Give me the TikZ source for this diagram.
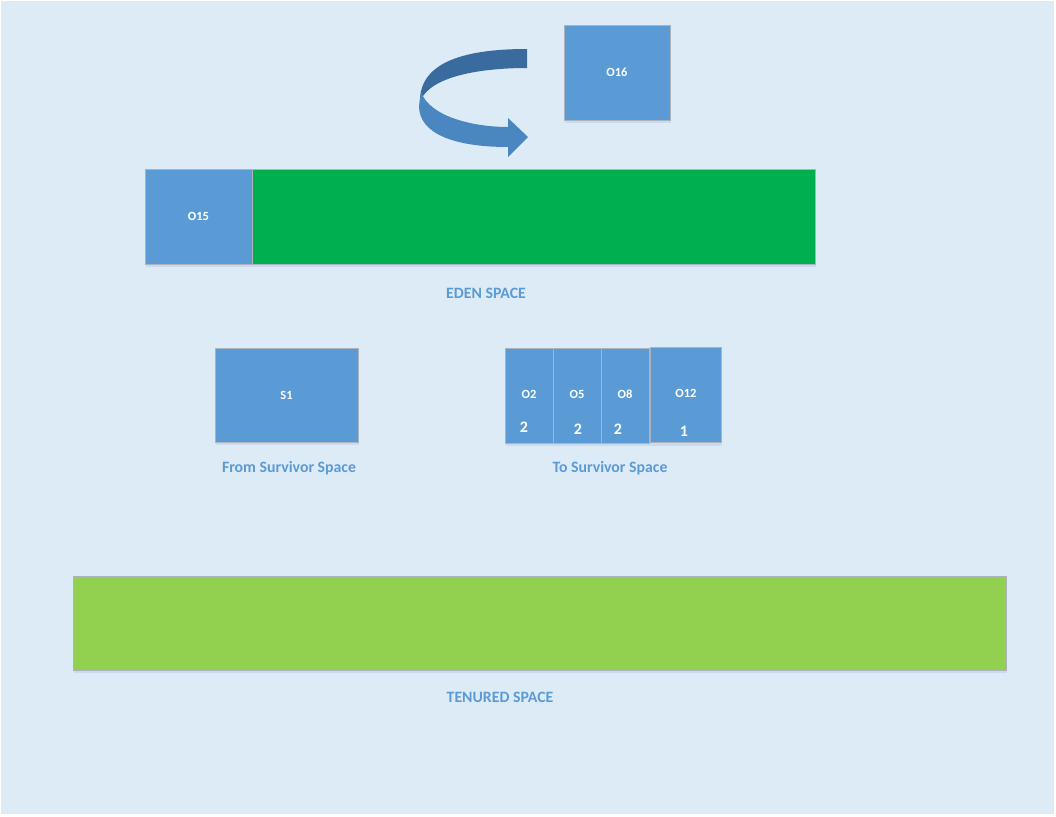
\documentclass[tikz,border=0pt]{standalone}
\usepackage{fontspec}
\setmainfont{Carlito}
\definecolor{bgblue}{HTML}{DDEBF7}
\definecolor{objblue}{HTML}{5B9BD5}
\definecolor{edengreen}{HTML}{00B050}
\definecolor{tengreen}{HTML}{92D050}
\definecolor{edgegray}{HTML}{ABB4BE}
\definecolor{arrdark}{HTML}{3A6B9E}
\definecolor{arrlight}{HTML}{4A86C0}
\definecolor{shadowc}{HTML}{C5D7EA}
\tikzset{
  region/.style={draw=edgegray, line width=0.9pt, inner sep=0pt, outer sep=0pt, anchor=north west},
  objbox/.style={region, fill=objblue, text=white, font=\bfseries\fontsize{12.5}{14}\selectfont},
  objlbl/.style={text=white, font=\bfseries\fontsize{12.5}{14}\selectfont, inner sep=0pt},
  caption/.style={text=objblue, font=\bfseries\fontsize{15.8}{18}\selectfont, inner sep=0pt},
  agenum/.style={text=white, font=\bfseries\fontsize{16}{18}\selectfont, inner sep=0pt},
}
\begin{document}
\begin{tikzpicture}[x=1pt,y=-1pt]
\useasboundingbox (0,0) rectangle (1056,816);
\fill[white] (0,0) rectangle (1056,816);
\fill[bgblue] (1,1) rectangle (1054,814);

% soft shadows
\foreach \a/\b/\c/\d in {564/25/670/120, 145/169/815/264, 215/348/358/442, 505/348/721/443, 73/576/1006/670}{
  \fill[shadowc, opacity=0.8] (\a+1,\b+3) rectangle (\c+1,\d+3);
}

% curved arrow
\fill[arrdark] (527,49) .. controls (460,49) and (418,64) .. (420,104)
   -- (423,96) .. controls (438,74) and (488,68) .. (527,68) -- cycle;
\fill[arrlight] (421,92) .. controls (430,117) and (474,127) .. (508,127)
   -- (508,118) -- (528,137) -- (508,157) -- (508,147)
   .. controls (455,147) and (419,134) .. (419,106) -- cycle;

% O16
\node[objbox, minimum width=106pt, minimum height=95pt] (o16) at (564,25) {O16};

% Eden space
\node[region, fill=edengreen, minimum width=563pt, minimum height=95pt] (eden) at (252,169) {};
\node[objbox, minimum width=107pt, minimum height=95pt] (o15) at (145,169) {O15};
\node[caption] (edenlbl) at (486,293) {EDEN SPACE};

% From survivor
\node[objbox, minimum width=143pt, minimum height=94pt] (s1) at (215,348) {S1};
\node[caption] (fromlbl) at (289,468) {From Survivor Space};

% To survivor
\node[objbox, minimum width=48pt, minimum height=95pt] (o2) at (505,348) {};
\node[objbox, minimum width=48pt, minimum height=95pt] (o5) at (553,348) {};
\node[objbox, minimum width=48pt, minimum height=95pt] (o8) at (601,348) {};
\node[objbox, minimum width=71pt, minimum height=95pt] (o12) at (650,347) {};
\node[objlbl] (o2t) at (529,394) {O2};
\node[objlbl] (o5t) at (577,394) {O5};
\node[objlbl] (o8t) at (625,394) {O8};
\node[objlbl] (o12t) at (686,393) {O12};
\node[agenum] (a2) at (524,427) {2};
\node[agenum] (a5) at (578,429) {2};
\node[agenum] (a8) at (618,429) {2};
\node[agenum] (a12) at (684,431) {1};
\node[caption] (tolbl) at (610,468) {To Survivor Space};

% Tenured
\node[region, fill=tengreen, minimum width=933pt, minimum height=94pt] (tenured) at (73,576) {};
\node[caption] (tenlbl) at (500,697) {TENURED SPACE};
\end{tikzpicture}
\end{document}
